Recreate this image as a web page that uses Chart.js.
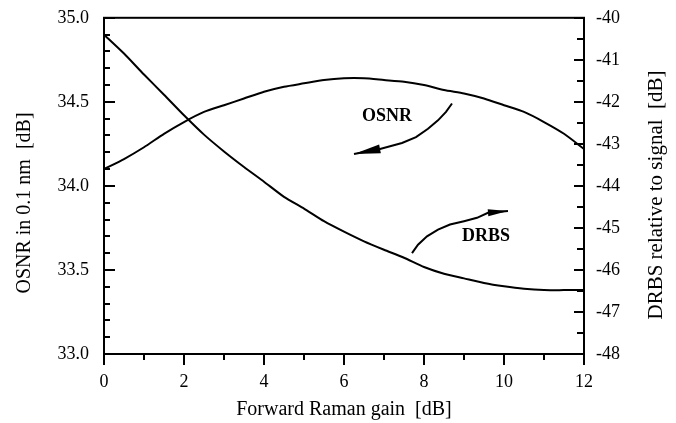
<!DOCTYPE html>
<html>
<head>
<meta charset="utf-8">
<script src="https://cdn.jsdelivr.net/npm/chart.js@4.4.0/dist/chart.umd.min.js"></script>
<style>
  html, body { margin: 0; padding: 0; background: #fff; }
  #wrap { width: 676px; height: 423px; }
</style>
</head>
<body>
<div id="wrap"><canvas id="ramanChart"></canvas></div>
<script>
// Forward Raman gain [dB]
const gain = [0, 0.5, 1, 1.5, 2, 2.5, 3, 3.5, 4, 4.5, 5, 5.5, 6, 6.5, 7, 7.5, 8, 8.5, 9, 9.5, 10, 10.5, 11, 11.5, 12];
// OSNR in 0.1 nm [dB] (left axis)
const osnr = [34.10, 34.16, 34.23, 34.31, 34.38, 34.44, 34.48, 34.52, 34.56, 34.59, 34.61, 34.63, 34.64, 34.64, 34.63, 34.62, 34.60, 34.57, 34.55, 34.52, 34.48, 34.44, 34.38, 34.31, 34.22];
// DRBS relative to signal [dB] (right axis)
const drbs = [-40.40, -40.85, -41.35, -41.83, -42.32, -42.78, -43.18, -43.55, -43.90, -44.26, -44.54, -44.84, -45.09, -45.32, -45.52, -45.71, -45.93, -46.09, -46.20, -46.31, -46.39, -46.45, -46.48, -46.48, -46.48];

// Tick labels
const gainTicks = [0, 2, 4, 6, 8, 10, 12];
const osnrTicks = [33.0, 33.5, 34.0, 34.5, 35.0];
const drbsTicks = [-48, -47, -46, -45, -44, -43, -42, -41, -40];

const serif = '"Liberation Serif", "Times New Roman", serif';

// Frame, inward/outward tick marks, axis titles and the two labelled arrows
const decorations = {
    id: 'decorations',
    afterDraw(chart) {
        const { ctx, chartArea: a, scales } = chart;
        const x = scales.x, yl = scales.y, yr = scales.y2;
        ctx.save();
        ctx.strokeStyle = '#000';
        ctx.fillStyle = '#000';
        ctx.lineWidth = 2;
        ctx.strokeRect(a.left, a.top, a.right - a.left, a.bottom - a.top);

        ctx.beginPath();
        // x axis: major every 2, minor every 1, pointing down
        for (let v = 0; v <= 12; v++) {
            const px = Math.round(x.getPixelForValue(v));
            const len = v % 2 === 0 ? 11 : 6;
            ctx.moveTo(px, a.bottom);
            ctx.lineTo(px, a.bottom + len);
        }
        // left axis: major every 0.5, minor every 0.1, pointing in
        for (let i = 0; i <= 20; i++) {
            const py = Math.round(yl.getPixelForValue(33 + i * 0.1));
            const len = i % 5 === 0 ? 11 : 6;
            ctx.moveTo(a.left, py);
            ctx.lineTo(a.left + len, py);
        }
        // right axis: major every 1, minor every 0.5, pointing in
        for (let i = 0; i <= 16; i++) {
            const py = Math.round(yr.getPixelForValue(-48 + i * 0.5));
            const len = i % 2 === 0 ? 10 : 7;
            ctx.moveTo(a.right, py);
            ctx.lineTo(a.right - len, py);
        }
        ctx.stroke();

        // axis titles
        ctx.font = '20px ' + serif;
        ctx.textAlign = 'center';
        ctx.textBaseline = 'middle';
        ctx.fillText('Forward Raman gain  [dB]', (a.left + a.right) / 2, 410);
        ctx.save();
        ctx.translate(25, 203);
        ctx.rotate(-Math.PI / 2);
        ctx.fillText('OSNR in 0.1 nm  [dB]', 0, 0);
        ctx.restore();
        ctx.save();
        ctx.translate(656, 195);
        ctx.rotate(-Math.PI / 2);
        ctx.font = '21px ' + serif;
        ctx.fillText('DRBS relative to signal  [dB]', 0, 0);
        ctx.restore();

        // annotations, placed in gain / OSNR coordinates
        const P = (gx, oy) => [x.getPixelForValue(gx), yl.getPixelForValue(oy)];
        ctx.font = 'bold 18px ' + serif;
        let p = P(7.075, 34.415);
        ctx.fillText('OSNR', p[0], p[1]);
        p = P(9.55, 33.70);
        ctx.fillText('DRBS', p[0], p[1]);

        const arrow = (pts, halfW) => {
            ctx.beginPath();
            pts.forEach((q, i) => {
                const c = P(q[0], q[1]);
                i ? ctx.lineTo(c[0], c[1]) : ctx.moveTo(c[0], c[1]);
            });
            ctx.lineWidth = 2;
            ctx.stroke();
            const tip = P(...pts[pts.length - 1]);
            const base = P(...pts[pts.length - 2]);
            const dx = tip[0] - base[0], dy = tip[1] - base[1];
            const d = Math.hypot(dx, dy);
            const nx = -dy / d * halfW, ny = dx / d * halfW;
            ctx.beginPath();
            ctx.moveTo(tip[0], tip[1]);
            ctx.lineTo(base[0] + nx, base[1] + ny);
            ctx.lineTo(base[0] - nx, base[1] - ny);
            ctx.closePath();
            ctx.fill();
        };
        arrow([[8.7, 34.49], [8.55, 34.44], [8.35, 34.39], [8.1, 34.34], [7.8, 34.29], [7.45, 34.255], [6.9, 34.22], [6.25, 34.19]], 4.5);
        arrow([[7.7, 33.60], [7.85, 33.65], [8.075, 33.70], [8.35, 33.74], [8.65, 33.77], [9.0, 33.79], [9.325, 33.81], [9.6, 33.84], [10.1, 33.85]], 3.5);
        ctx.restore();
    }
};

new Chart(document.getElementById('ramanChart'), {
    type: 'line',
    data: {
        datasets: [
            {
                label: 'OSNR',
                data: gain.map((g, i) => ({ x: g, y: osnr[i] })),
                yAxisID: 'y',
                borderColor: '#000',
                borderWidth: 2,
                pointRadius: 0,
                tension: 0.2,
            },
            {
                label: 'DRBS',
                data: gain.map((g, i) => ({ x: g, y: drbs[i] })),
                yAxisID: 'y2',
                borderColor: '#000',
                borderWidth: 2,
                pointRadius: 0,
                tension: 0.2,
            },
        ],
    },
    options: {
        responsive: true,
        maintainAspectRatio: false,
        animation: false,
        layout: { padding: { top: 11, left: 0, right: 0, bottom: 0 } },
        plugins: {
            legend: { display: false },
            tooltip: { enabled: false },
        },
        scales: {
            x: {
                type: 'linear',
                min: 0,
                max: 12,
                afterBuildTicks: s => { s.ticks = gainTicks.map(v => ({ value: v })); },
                afterFit: s => { s.height = 69; },
                grid: { display: false },
                border: { display: false },
                ticks: { color: '#000', padding: 9, maxRotation: 0, font: { family: serif, size: 18 } },
            },
            y: {
                position: 'left',
                min: 33,
                max: 35,
                afterBuildTicks: s => { s.ticks = osnrTicks.map(v => ({ value: v })); },
                afterFit: s => { s.width = 104; },
                grid: { display: false },
                border: { display: false },
                ticks: { color: '#000', padding: 7, font: { family: serif, size: 18 }, callback: v => v.toFixed(1) },
            },
            y2: {
                position: 'right',
                min: -48,
                max: -40,
                afterBuildTicks: s => { s.ticks = drbsTicks.map(v => ({ value: v })); },
                afterFit: s => { s.width = 92; },
                grid: { display: false },
                border: { display: false },
                ticks: { color: '#000', padding: 4, font: { family: serif, size: 18 }, callback: v => String(v) },
            },
        },
    },
    plugins: [decorations],
});
</script>
</body>
</html>
